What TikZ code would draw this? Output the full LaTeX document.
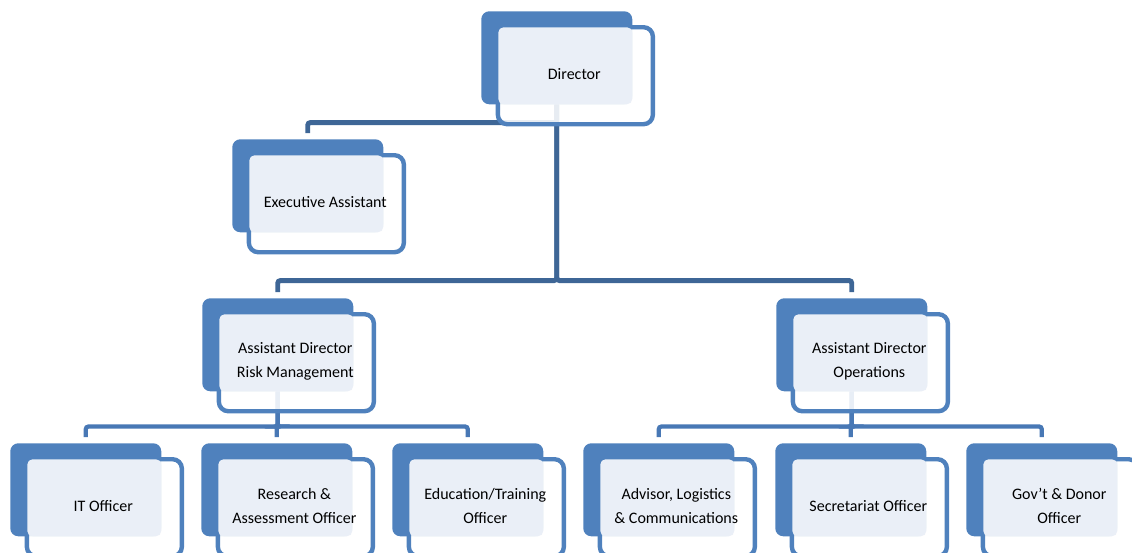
\documentclass[tikz,border=0pt]{standalone}
\usepackage{fontspec}
\setmainfont{Carlito}
\usepackage{tikz}
\usetikzlibrary{positioning}
\usepackage{xcolor}

\definecolor{boxblue}{HTML}{4F81BD}
\definecolor{boxlight}{HTML}{EAEFF7}
\definecolor{linkdark}{HTML}{3E6696}
\definecolor{linklight}{HTML}{4878B5}

\pgfdeclarelayer{bg}
\pgfsetlayers{bg,main}

\tikzset{
  boxback/.style={rectangle,rounded corners=6pt,fill=boxblue,minimum width=113.25pt,minimum height=69.75pt,inner sep=0pt,anchor=north west},
  boxframe/.style={rectangle,rounded corners=7pt,draw=boxblue,line width=3.3pt,fill=white,fill opacity=0.88,draw opacity=1,minimum width=116.25pt,minimum height=72.75pt,inner sep=0pt,anchor=north west},
  boxlight/.style={rectangle,rounded corners=4pt,fill=boxlight,minimum width=100.5pt,minimum height=57.75pt,inner sep=0pt,anchor=north west},
  boxtext/.style={align=center,font=\fontsize{12pt}{18pt}\selectfont,text=black},
  linktop/.style={draw=linkdark,line width=3.7pt,rounded corners=2pt},
  linkbot/.style={draw=linklight,line width=3.2pt,rounded corners=2pt}
}

\newcommand{\orgunit}[4]{%
  \node[boxback] (#1) at (#2,-#3) {};
  \node[boxframe,at=(#1.north west),xshift=11pt,yshift=-10.5pt] (#1-f) {};
  \node[boxlight,at=(#1.north west),xshift=12.75pt,yshift=-12pt] (#1-l) {};
  \node[boxtext,at=(#1-f.center),xshift=-0.8pt,yshift=1.2pt] (#1-t) {#4};
}

\begin{document}
\begin{tikzpicture}[x=0.75pt,y=0.75pt]
\useasboundingbox (0,0) rectangle (1132,-553);

\orgunit{dir}{481}{11}{Director}
\orgunit{ea}{232}{139}{Executive Assistant}
\orgunit{adr}{202}{298}{Assistant Director\\Risk Management}
\orgunit{ado}{776}{298}{Assistant Director\\Operations}

\orgunit{it}{10}{443}{IT Officer}
\orgunit{res}{201}{443}{Research \&\\Assessment Officer}
\orgunit{edu}{392}{443}{Education/Training\\Officer}
\orgunit{adv}{583}{443}{Advisor, Logistics\\\& Communications}
\orgunit{sec}{775}{443}{Secretariat Officer}
\orgunit{gov}{966}{443}{Gov’t \& Donor\\Officer}

\begin{pgfonlayer}{bg}
\draw[linktop] (dir.south) -- ++(0,-18) -| ([yshift=4.5pt]ea.north);
\draw[linktop] (dir.south) -- ++(0,-176) -| ([yshift=4.5pt]adr.north);
\draw[linktop] (dir.south) -- ++(0,-176) -| ([yshift=4.5pt]ado.north);
\foreach \u in {it,res,edu}
  \draw[linkbot] (adr.south) -- ++(0,-35) -| ([yshift=4.5pt]\u.north);
\foreach \u in {adv,sec,gov}
  \draw[linkbot] (ado.south) -- ++(0,-35) -| ([yshift=4.5pt]\u.north);
\end{pgfonlayer}
\end{tikzpicture}
\end{document}
